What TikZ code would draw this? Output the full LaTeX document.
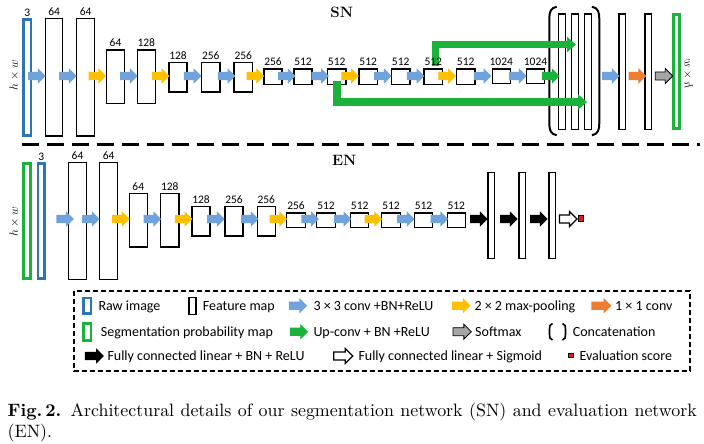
\documentclass[tikz,border=0pt]{standalone}
\usepackage{fontspec}
\newfontfamily\carlito{Carlito}
\usetikzlibrary{shapes.arrows,arrows.meta}
\definecolor{cblue}{RGB}{46,117,182}
\definecolor{ablue}{RGB}{112,163,219}
\definecolor{ayellow}{RGB}{255,192,0}
\definecolor{aorange}{RGB}{237,125,49}
\definecolor{agreen}{RGB}{26,178,58}
\definecolor{agray}{RGB}{166,166,166}
\definecolor{ared}{RGB}{225,30,30}
\tikzset{
  fm/.style={rectangle, draw=black, line width=1.4pt, inner sep=0pt, outer sep=0pt},
  rawbox/.style={fm, draw=cblue, line width=2.6pt},
  segbox/.style={fm, draw=agreen, line width=2.8pt},
  lbl/.style={font=\carlito\fontsize{11.5}{12}\selectfont, inner sep=2.8pt},
  blk/.style={single arrow, draw=none, inner xsep=0pt, inner ysep=4pt, outer sep=0pt, minimum height=17.5pt, single arrow head extend=3.5pt},
  bl/.style={blk, fill=ablue},
  yl/.style={blk, fill=ayellow},
  gr/.style={blk, fill=agreen},
  orng/.style={blk, fill=aorange},
  gy/.style={blk, fill=agray, draw=black, line width=0.8pt, inner ysep=3.6pt},
  bk/.style={blk, fill=black},
  wt/.style={blk, fill=white, draw=black, line width=1.2pt, inner ysep=3.4pt},
  skip/.style={draw=agreen, line width=7.6pt, -{Triangle[width=15pt,length=9pt]}},
  lg/.style={font=\carlito\fontsize{14}{16}\selectfont, anchor=base west, inner sep=0pt},
  hw/.style={font=\fontsize{12}{14}\selectfont, inner sep=0pt},
}
\begin{document}
\begin{tikzpicture}[x=1pt, y=-1pt]
\fill[white] (0,0) rectangle (704,444);
\useasboundingbox (0,0) rectangle (704,444);

% ---------------- SN ----------------
\node[font=\bfseries\fontsize{15}{18}\selectfont] (SN) at (341.7,12.7) {SN};
\node[hw, rotate=90] (hwS) at (14.3,75) {$h\times w$};
\node[rawbox, minimum width=7.4pt, minimum height=115.8pt, label={[lbl]above:3}] (S1) at (27.3,77.5) {};
\node[fm, minimum width=16.9pt, minimum height=117pt, label={[lbl]above:64}] (S2) at (54.2,77.3) {};
\node[fm, minimum width=17.9pt, minimum height=117pt, label={[lbl]above:64}] (S3) at (85.7,77.3) {};
\node[fm, minimum width=18.2pt, minimum height=53.3pt, label={[lbl]above:64}] (S4) at (115.5,76.7) {};
\node[fm, minimum width=17.9pt, minimum height=53.3pt, label={[lbl]above:128}] (S5) at (146.3,76.7) {};
\node[fm, minimum width=18pt, minimum height=29.6pt, label={[lbl]above:128}] (S6) at (178,77.2) {};
\node[fm, minimum width=18.3pt, minimum height=29.6pt, label={[lbl]above:256}] (S7) at (210.8,77.2) {};
\node[fm, minimum width=18.5pt, minimum height=29.6pt, label={[lbl]above:256}] (S8) at (243.3,77.2) {};
\node[fm, minimum width=18pt, minimum height=15.3pt, label={[lbl]above:256}] (S9) at (273,76.7) {};
\node[fm, minimum width=18pt, minimum height=15.3pt, label={[lbl]above:512}] (S10) at (303,76.7) {};
\node[fm, minimum width=18.5pt, minimum height=15.3pt, label={[lbl]above:512}] (S11) at (336.7,76.7) {};
\node[fm, minimum width=18.3pt, minimum height=15.3pt, label={[lbl]above:512}] (S12) at (368.2,76.7) {};
\node[fm, minimum width=18.5pt, minimum height=15.3pt, label={[lbl]above:512}] (S13) at (400.7,76.7) {};
\node[fm, minimum width=18.5pt, minimum height=15.3pt] (S14) at (433.3,76.7) {};
\node[fm, minimum width=18.5pt, minimum height=15.3pt, label={[lbl]above:512}] (S15) at (465.7,76.7) {};
\node[fm, minimum width=17.9pt, minimum height=14.8pt, label={[lbl]above:1024}] (S16) at (501.3,76.3) {};
\node[fm, minimum width=18.2pt, minimum height=14.8pt, label={[lbl]above:1024}] (S17) at (535.5,76.3) {};
\node[fm, minimum width=6.9pt, minimum height=115.3pt] (C1) at (561.8,71.7) {};
\node[fm, minimum width=6.9pt, minimum height=115.3pt] (C2) at (574.8,71.7) {};
\node[fm, minimum width=6.9pt, minimum height=115.3pt] (C3) at (588.2,71.7) {};
\node[fm, minimum width=6.4pt, minimum height=115.3pt] (S18) at (622.2,71.7) {};
\node[fm, minimum width=6.6pt, minimum height=115.3pt] (S19) at (648.3,71.7) {};
\node[segbox, minimum width=5.9pt, minimum height=113.9pt] (S20) at (676.7,71.7) {};
\node[hw, cm={0,1,1,0,(0,0)}] (hwS2) at (688.3,73.5) {$h\times w$};

% concatenation brackets
\draw[line width=2pt] (556.7,6.7) .. controls (550.5,8) and (549.3,12) .. (549.3,19) -- (549.3,123) .. controls (549.3,130) and (550.5,134) .. (556.7,135.3);
\draw[line width=2pt] (591.9,6.7) .. controls (598.1,8) and (599.3,12) .. (599.3,19) -- (599.3,123) .. controls (599.3,130) and (598.1,134) .. (591.9,135.3);

% skip connections (up-conv)
\coordinate (t1) at (576,44.5);
\coordinate (t2) at (587,102);
\draw[skip] ([xshift=2pt,yshift=3pt]S14.north) |- (t1);
\draw[skip] ([yshift=3pt]S11.south) |- (t2);
\node[lbl, anchor=south] (S14l) at (S14.north) {512};

% SN arrows
\node[bl] (A1) at (34.7,76) {};
\node[bl] (A2) at (65.8,76) {};
\node[yl] (A3) at (95.3,76) {};
\node[bl] (A4) at (126.7,76) {};
\node[yl] (A5) at (158.5,76) {};
\node[bl] (A6) at (190.5,76) {};
\node[bl] (A7) at (224.5,76) {};
\node[yl] (A8) at (253.3,76) {};
\node[bl] (A9) at (284.7,76) {};
\node[bl] (A10) at (318,76) {};
\node[yl] (A11) at (348,76) {};
\node[bl] (A12) at (380.8,76) {};
\node[bl] (A13) at (413.5,76) {};
\node[yl] (A14) at (445,76) {};
\node[bl] (A15) at (480.5,76) {};
\node[bl] (A16) at (515.8,76) {};
\node[gr] (A17) at (548.7,76) {};
\node[bl] (A18) at (608.7,76) {};
\node[orng] (A19) at (635.3,76) {};
\node[gy] (A20) at (662,76) {};

% separator
\draw[line width=2.8pt, dash pattern=on 17.5pt off 7.5pt] (21.7,144.5) -- (700,144.5);

% ---------------- EN ----------------
\node[font=\bfseries\fontsize{15}{18}\selectfont] (EN) at (344.3,160) {EN};
\node[hw, rotate=90] (hwE) at (14.3,221.7) {$h\times w$};
\node[segbox, minimum width=6.6pt, minimum height=114.9pt] (E0) at (27,221.2) {};
\node[rawbox, minimum width=6.7pt, minimum height=115.1pt, label={[lbl]above:3}] (E1) at (41.3,221.2) {};
\node[fm, minimum width=18.2pt, minimum height=116.6pt, label={[lbl]above:64}] (E2) at (77.5,221) {};
\node[fm, minimum width=17.9pt, minimum height=116.6pt, label={[lbl]above:64}] (E3) at (108.7,221) {};
\node[fm, minimum width=17.9pt, minimum height=53.6pt, label={[lbl]above:64}] (E4) at (138.3,220.2) {};
\node[fm, minimum width=18.3pt, minimum height=53.6pt, label={[lbl]above:128}] (E5) at (169.8,220.2) {};
\node[fm, minimum width=18pt, minimum height=29.3pt, label={[lbl]above:128}] (E6) at (201,221.3) {};
\node[fm, minimum width=18pt, minimum height=29.3pt, label={[lbl]above:256}] (E7) at (234,221.3) {};
\node[fm, minimum width=18pt, minimum height=29.3pt, label={[lbl]above:256}] (E8) at (266.3,221.3) {};
\node[fm, minimum width=18.6pt, minimum height=14.6pt, label={[lbl]above:256}] (E9) at (296,220.3) {};
\node[fm, minimum width=18.6pt, minimum height=14.6pt, label={[lbl]above:512}] (E10) at (326,220.3) {};
\node[fm, minimum width=18pt, minimum height=14.6pt, label={[lbl]above:512}] (E11) at (359.7,220.3) {};
\node[fm, minimum width=18.6pt, minimum height=14.6pt, label={[lbl]above:512}] (E12) at (391,220.3) {};
\node[fm, minimum width=18.2pt, minimum height=14.6pt, label={[lbl]above:512}] (E13) at (423.5,220.3) {};
\node[fm, minimum width=18pt, minimum height=14.6pt, label={[lbl]above:512}] (E14) at (456.3,220.3) {};
\node[fm, minimum width=6.3pt, minimum height=85.9pt] (F1) at (491.2,215.3) {};
\node[fm, minimum width=6.3pt, minimum height=85.9pt] (F2) at (522.2,215.3) {};
\node[fm, minimum width=6.3pt, minimum height=85.9pt] (F3) at (552.2,215.3) {};
\node[fm, fill=ared, line width=1pt, minimum size=5.5pt] (R) at (581,218.7) {};

% EN arrows
\node[bl] (B1) at (63,219) {};
\node[bl] (B2) at (88.7,219) {};
\node[yl] (B3) at (118.7,219) {};
\node[bl] (B4) at (150.2,219) {};
\node[yl] (B5) at (181.5,219) {};
\node[bl] (B6) at (213.7,219) {};
\node[bl] (B7) at (247.7,219) {};
\node[yl] (B8) at (276.2,219) {};
\node[bl] (B9) at (308,219) {};
\node[bl] (B10) at (340.5,219) {};
\node[yl] (B11) at (371.2,219) {};
\node[bl] (B12) at (403.8,219) {};
\node[bl] (B13) at (437.2,219) {};
\node[bk] (B14) at (476.8,219) {};
\node[bk] (B15) at (506.7,219) {};
\node[bk] (B16) at (536.7,219) {};
\node[wt] (B17) at (566.3,219) {};

% ---------------- Legend ----------------
\draw[line width=1.3pt, dash pattern=on 5pt off 3pt] (74,291) rectangle (690,371);
\node[rawbox, minimum width=7.4pt, minimum height=15.7pt] (k1) at (87.3,305.9) {};
\node[lg] (l1) at (98.3,310) {Raw image};
\node[fm, minimum width=7pt, minimum height=16.6pt] (k2) at (192.5,306) {};
\node[lg] (l2) at (202.7,310) {Feature map};
\node[bl, minimum height=18.3pt] (k3) at (295.8,305.7) {};
\node[lg] (l3) at (313.3,310) {3 × 3 conv +BN+ReLU};
\node[yl, minimum height=18.3pt] (k4) at (459.2,305.7) {};
\node[lg] (l4) at (474.3,310) {2 × 2 max-pooling};
\node[orng, minimum height=20pt] (k5) at (599.3,305.7) {};
\node[lg] (l5) at (615,310) {1 × 1 conv};

\node[segbox, minimum width=7.5pt, minimum height=17.2pt] (k6) at (87.2,331.7) {};
\node[lg] (l6) at (100.7,336) {Segmentation probability map};
\node[gr, minimum height=18.3pt] (k7) at (296.8,331.7) {};
\node[lg] (l7) at (313.3,336) {Up-conv + BN +ReLU};
\node[gy, minimum height=18.3pt] (k8) at (460.2,331.7) {};
\node[lg] (l8) at (475,336) {Softmax};
\draw[line width=1.6pt] (552.5,323.5) .. controls (549.8,324.5) and (549.5,326) .. (549.5,329) -- (549.5,334.5) .. controls (549.5,337.5) and (549.8,339) .. (552.5,340);
\draw[line width=1.6pt] (562.5,323.5) .. controls (565.2,324.5) and (565.5,326) .. (565.5,329) -- (565.5,334.5) .. controls (565.5,337.5) and (565.2,339) .. (562.5,340);
\node[lg] (l9) at (572.7,336) {Concatenation};

\node[bk, minimum height=19pt] (k10) at (92.2,356) {};
\node[lg] (l10) at (107.3,360.5) {Fully connected linear + BN + ReLU};
\node[wt, minimum height=19pt] (k11) at (341.2,356) {};
\node[lg] (l11) at (358.3,360.5) {Fully connected linear + Sigmoid};
\node[fm, fill=ared, line width=1pt, minimum size=4.7pt] (k12) at (571.2,355.5) {};
\node[lg] (l12) at (579.3,360.5) {Evaluation score};

% ---------------- Caption ----------------
\node[anchor=north west, inner sep=0pt, scale=1.79, text width=385pt, align=justify,
      font=\fontsize{10}{11.6}\selectfont] (cap) at (7.3,402.6)
  {\hyphenpenalty=10000 \textbf{Fig.\,2.} Architectural details of our segmentation network (SN) and evaluation network\linebreak (EN).};
\end{tikzpicture}
\end{document}
